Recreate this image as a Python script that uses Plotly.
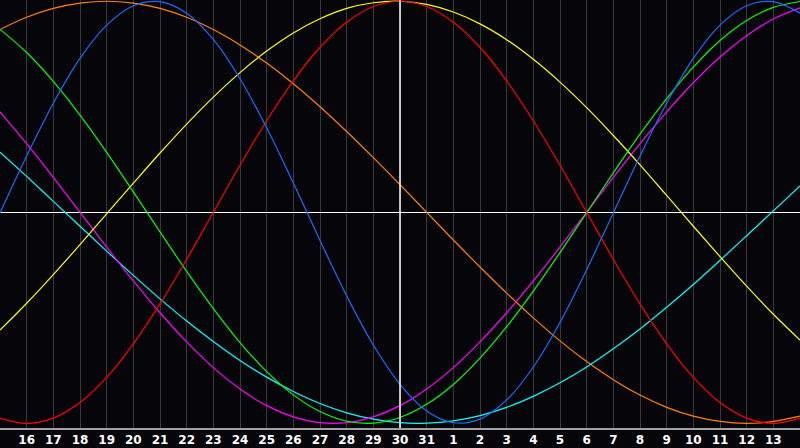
import plotly.graph_objects as go

# Day index (0 = 15th, 30 = 14th of next month)
days = list(range(31))
tick_vals = list(range(1, 30))
tick_labels = ["16", "17", "18", "19", "20", "21", "22", "23", "24", "25", "26", "27", "28", "29", "30",
               "31", "1", "2", "3", "4", "5", "6", "7", "8", "9", "10", "11", "12", "13"]
today_index = 15

# Cycle values in percent, read per day
physical = [-0.3, 26.7, 51.7, 72.9, 88.7, 97.9, 99.8, 94.3, 81.9, 63.3, 40.1, 13.9, -13.3, -39.6, -62.9,
            -81.5, -94.1, -99.7, -98.0, -88.9, -73.3, -52.2, -27.2, -0.3, 26.7, 51.7, 72.9, 88.7, 97.9,
            99.8, 94.3]
emotional = [-97.5, -100, -97.5, -90.1, -78.2, -62.3, -43.4, -22.3, 0, 22.3, 43.4, 62.3, 78.2, 90.1, 97.5,
             100, 97.5, 90.1, 78.2, 62.3, 43.4, 22.3, 0, -22.3, -43.4, -62.3, -78.2, -90.1, -97.5, -100,
             -97.5]
intellectual = [86.7, 75.7, 62.0, 46.0, 28.4, 9.7, -9.3, -28.0, -45.6, -61.7, -75.5, -86.5, -94.4, -99.0,
                -99.9, -97.2, -91.0, -81.6, -69.1, -54.2, -37.3, -19.1, -0.2, 18.7, 37.0, 53.9, 68.8, 81.4,
                90.9, 97.1, 99.9]
intuitive = [47.6, 32.5, 16.5, 0, -16.5, -32.5, -47.6, -61.4, -73.6, -83.7, -91.6, -96.9, -99.7, -99.7,
             -96.9, -91.6, -83.7, -73.6, -61.4, -47.6, -32.5, -16.5, 0, 16.5, 32.5, 47.6, 61.4, 73.6, 83.7,
             91.6, 96.9]
aesthetic = [-55.8, -43.1, -29.5, -15.3, -0.7, 13.8, 28.1, 41.8, 54.6, 66.2, 76.4, 85.0, 91.7, 96.6, 99.3,
             100.0, 98.5, 94.9, 89.3, 81.8, 72.5, 61.7, 49.6, 36.4, 22.5, 8.0, -6.6, -21.0, -35.0, -48.3,
             -60.5]
awareness = [86.6, 92.4, 96.6, 99.1, 100, 99.1, 96.6, 92.4, 86.6, 79.3, 70.7, 60.9, 50, 38.3, 25.9, 13.1,
             0, -13.1, -25.9, -38.3, -50, -60.9, -70.7, -79.3, -86.6, -92.4, -96.6, -99.1, -100, -99.1,
             -96.6]
spiritual = [28.5, 17.0, 5.2, -6.6, -18.4, -29.9, -41.0, -51.5, -61.2, -70.2, -78.1, -84.9, -90.6, -95.0,
             -98.0, -99.7, -99.9, -98.8, -96.3, -92.4, -87.2, -80.8, -73.3, -64.7, -55.3, -45.0, -34.2,
             -22.8, -11.1, 0.7, 12.5]

series = [
    ("Awareness", awareness, "#ff8000"),
    ("Spiritual", spiritual, "#00ffff"),
    ("Intuitive", intuitive, "#ff00ff"),
    ("Aesthetic", aesthetic, "#ffff00"),
    ("Intellectual", intellectual, "#00ff00"),
    ("Emotional", emotional, "#ff0000"),
    ("Physical", physical, "#1a6cff"),
]

fig = go.Figure()
for name, vals, color in series:
    fig.add_trace(go.Scatter(x=days, y=vals, mode="lines", name=name,
                             line=dict(color=color, width=1.2, shape="spline", smoothing=1.0),
                             hoverinfo="skip"))

fig.add_shape(type="line", xref="x", yref="paper", x0=today_index, x1=today_index, y0=0, y1=1,
              line=dict(color="#ffffff", width=1.5), layer="above")

bg = "#060509"
fig.update_layout(
    width=800, height=448,
    margin=dict(l=0, r=0, t=0, b=20, pad=0, autoexpand=False),
    paper_bgcolor=bg, plot_bgcolor=bg,
    showlegend=False,
    xaxis=dict(range=[0, 30], tickmode="array", tickvals=tick_vals, ticktext=tick_labels,
               showgrid=True, gridcolor="#383838", gridwidth=1, zeroline=False,
               showline=True, linecolor="#a0a0a0", linewidth=1.5, ticks="", automargin=False,
               tickfont=dict(family="DejaVu Sans", size=12, color="#ffffff", weight="bold"),
               fixedrange=True),
    yaxis=dict(range=[-102.2, 100.6], showgrid=False, zeroline=True, zerolinecolor="#ffffff",
               zerolinewidth=1.5, showticklabels=False, ticks="", automargin=False,
               showline=True, linecolor="#a0a0a0", linewidth=1.5, fixedrange=True),
)

fig.write_html("out.html",
               config={"displayModeBar": False, "staticPlot": True},
               post_script="document.body.style.margin='0';document.body.style.background='" + bg + "';")
